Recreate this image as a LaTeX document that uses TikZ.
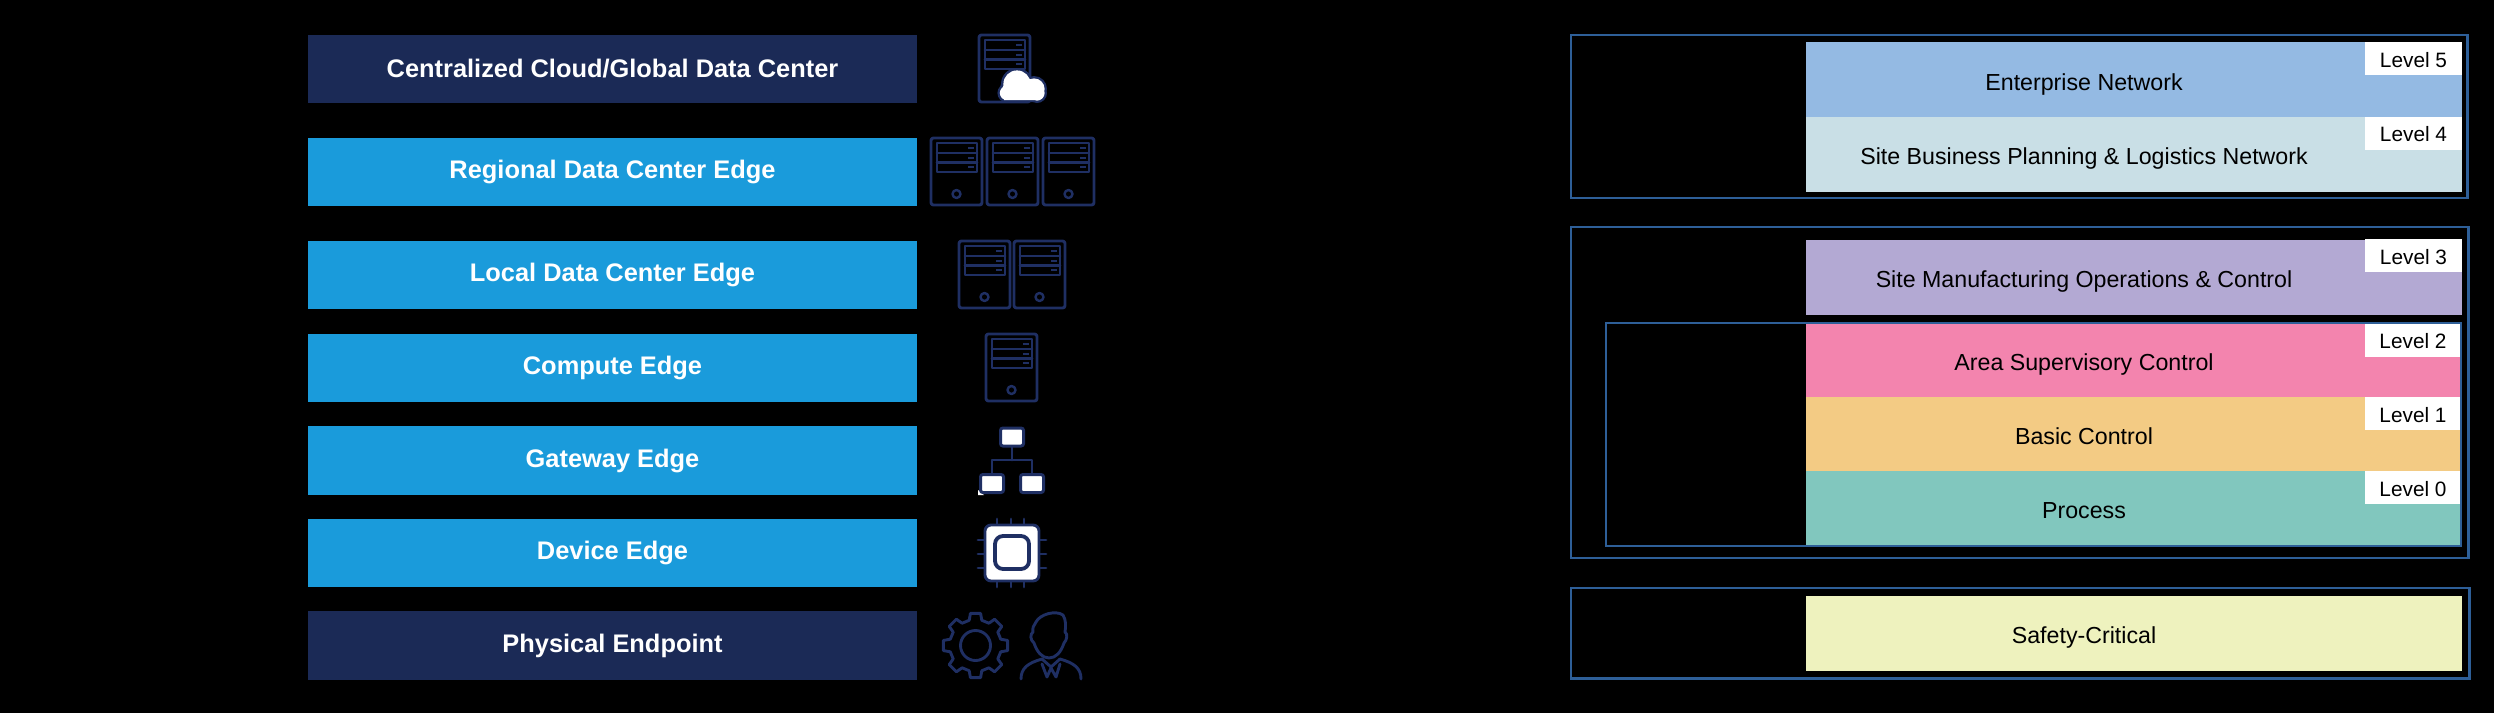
\documentclass[tikz,border=0pt]{standalone}
\usepackage{fontspec}
\setmainfont{Liberation Sans}
\definecolor{navy}{HTML}{1B2A56}
\definecolor{sky}{HTML}{1A9BDB}
\definecolor{ink}{HTML}{1F2F63}
\definecolor{frame}{HTML}{2E5F98}
\definecolor{lvfive}{HTML}{94BAE3}
\definecolor{lvfour}{HTML}{C9DFE6}
\definecolor{lvthree}{HTML}{B3A9D3}
\definecolor{lvtwo}{HTML}{F384AE}
\definecolor{lvone}{HTML}{F3CB84}
\definecolor{lvzero}{HTML}{81C7BE}
\definecolor{safety}{HTML}{EEF2BE}
\tikzset{
  bar/.style={inner sep=0pt,outer sep=0pt,minimum width=304.5pt,minimum height=34pt,text=white,font=\fontsize{12.7}{15}\selectfont\bfseries},
  navybar/.style={bar,fill=navy},
  skybar/.style={bar,fill=sky},
  row/.style={inner sep=0pt,outer sep=0pt,minimum width=328pt,minimum height=37.5pt,text=black},
  rowtext/.style={inner sep=0pt,font=\fontsize{11.6}{14}\selectfont},
  tag/.style={inner sep=0pt,outer sep=0pt,fill=white,minimum width=48.5pt,minimum height=16.5pt,text=black,font=\fontsize{10.4}{12}\selectfont},
  tagtext/.style={inner sep=0pt,font=\fontsize{10.4}{12}\selectfont},
  outerframe/.style={draw=frame,line width=1.3pt,inner sep=0pt},
  innerframe/.style={draw=frame,line width=1pt,inner sep=0pt},
  icon/.style={draw=ink,line width=1.45pt,line join=round,line cap=round},
  gwbox/.style={draw=ink,fill=white,line width=1.5pt,rounded corners=1.2pt,inner sep=0pt,minimum width=11.5pt,minimum height=9pt},
  pics/srv/.style={code={
    \draw[icon,rounded corners=1.2pt] (0,0) rectangle (51,67);
    \draw[icon] (6,5) rectangle (46,34);
    \draw[icon] (6,15) -- (46,15) (6,24.5) -- (46,24.5);
    \draw[ink,line width=1pt] (37,10) -- (43,10) (37,19.5) -- (43,19.5) (37,29) -- (43,29);
    \draw[icon,line width=1.2pt] (25.5,56) circle [radius=2pt];
  }},
}
\begin{document}
\begin{tikzpicture}[x=0.5pt,y=-0.5pt]
\fill[black] (0,0) rectangle (2494,713);
\useasboundingbox (0,0) rectangle (2494,713);
% left column bars
\node[navybar] (cloud) at (612.5,69) {Centralized Cloud/Global Data Center};
\node[skybar] (regional) at (612.5,172) {Regional Data Center Edge};
\node[skybar] (local) at (612.5,275) {Local Data Center Edge};
\node[skybar] (compute) at (612.5,368) {Compute Edge};
\node[skybar,minimum height=34.5pt] (gateway) at (612.5,460.5) {Gateway Edge};
\node[skybar] (device) at (612.5,553) {Device Edge};
\node[navybar,minimum height=34.5pt] (physical) at (612.5,645.5) {Physical Endpoint};
% server icons
\pic at (979,35) {srv};
\pic at (931,138) {srv};
\pic at (987,138) {srv};
\pic at (1043,138) {srv};
\pic at (959,241) {srv};
\pic at (1014,241) {srv};
\pic at (986,334) {srv};
% cloud
\fill[ink] (1002,86) rectangle (1040,102) (1017,84) circle [radius=8pt] (1034,89) circle [radius=6.5pt] (1007,93) circle [radius=4.8pt] (1037,93) circle [radius=5pt] (1008,88) circle [radius=4pt];
\fill[white] (1004,88) rectangle (1038,100) (1017,84) circle [radius=6.8pt] (1034,89) circle [radius=5.3pt] (1007,93) circle [radius=3.6pt] (1037,93) circle [radius=3.8pt] (1008,88) circle [radius=2.8pt];
% gateway icon
\fill[white] (978,490) -- (978,495) -- (984,495) -- cycle;
\node[gwbox] (gwtop) at (1012,437) {};
\node[gwbox] (gwleft) at (992,483.5) {};
\node[gwbox] (gwright) at (1032,483.5) {};
\coordinate (gwhub) at (1012,460);
\draw[icon] (gwtop.south) -- (gwhub);
\draw[icon] (gwleft.north) |- (gwhub);
\draw[icon] (gwright.north) |- (gwhub);
% chip icon
\draw[icon] (997,519) -- (997,525) (1011,519) -- (1011,525) (1024,519) -- (1024,525)
            (997,581) -- (997,587) (1011,581) -- (1011,587) (1024,581) -- (1024,587)
            (978,540) -- (985,540) (978,554) -- (985,554) (978,568) -- (985,568)
            (1039,540) -- (1046,540) (1039,554) -- (1046,554) (1039,568) -- (1046,568);
\draw[icon,fill=white,rounded corners=3pt] (985,525) rectangle (1039,581);
\draw[icon,line width=1.9pt,fill=white,rounded corners=4pt] (995,536) rectangle (1029,569);
% gear
\begin{scope}[shift={(975.5,645.5)}]
\draw[icon] (-14:26)
  foreach \a in {0,45,...,315} { -- ({\a-14}:26) -- ({\a-9}:32.5) -- ({\a+9}:32.5) -- ({\a+14}:26) } -- cycle;
\draw[icon] (0,0) circle [radius=7.5pt];
\end{scope}
% person
\draw[icon] (1036,622) .. controls (1040,614) and (1056,610) .. (1063,615) .. controls (1066,620) and (1066,626) .. (1065,632) .. controls (1068,634) and (1067,640) .. (1064,643) .. controls (1061,652) and (1056,658) .. (1049,658) .. controls (1042,658) and (1037,652) .. (1034,643) .. controls (1030,640) and (1030,634) .. (1033,632) .. controls (1032,628) and (1034,625) .. (1036,622) -- cycle;
\draw[icon] (1021,679) .. controls (1021,668) and (1028,663) .. (1042,659) (1081,679) .. controls (1081,668) and (1074,663) .. (1060,659);
\draw[icon] (1042,659) -- (1051,667) -- (1060,659) (1042,664) -- (1047,677) -- (1051,668) -- (1056,677) -- (1060,664);
% right column rows
\node[row,fill=lvfive] (enterprise) at (2134,79.5) {};
\node[row,fill=lvfour] (business) at (2134,154.5) {};
\node[row,fill=lvthree] (mfg) at (2134,277) {};
\node[row,fill=lvtwo,minimum width=327.5pt] (area) at (2133.5,360.5) {};
\node[row,fill=lvone,minimum width=327.5pt] (basic) at (2133.5,434) {};
\node[row,fill=lvzero,minimum width=327.5pt] (process) at (2133.5,508) {};
\node[row,fill=safety] (safe) at (2134,633.5) {};
\node[rowtext] (tenterprise) at (2084,84) {Enterprise Network};
\node[rowtext] (tbusiness) at (2084,158) {Site Business Planning \& Logistics Network};
\node[rowtext] (tmfg) at (2084,281) {Site Manufacturing Operations \& Control};
\node[rowtext] (tarea) at (2084,364.5) {Area Supervisory Control};
\node[rowtext] (tbasic) at (2084,436.5) {Basic Control};
\node[rowtext] (tprocess) at (2084,511) {Process};
\node[rowtext] (tsafe) at (2084,637) {Safety-Critical};
% level tags
\node[tag] (l5) at (2413.5,58.5) {};
\node[tag] (l4) at (2413.5,133) {};
\node[tag] (l3) at (2413.5,255.5) {};
\node[tag] (l2) at (2413,340) {};
\node[tag] (l1) at (2413,413.5) {};
\node[tag] (l0) at (2413,487.5) {};
\node[tagtext] (t5) at (2413.5,60) {Level 5};
\node[tagtext] (t4) at (2413.5,134.5) {Level 4};
\node[tagtext] (t3) at (2413.5,257) {Level 3};
\node[tagtext] (t2) at (2413,341.5) {Level 2};
\node[tagtext] (t1) at (2413,415) {Level 1};
\node[tagtext] (t0) at (2413,489) {Level 0};
% frames
\draw[outerframe] (1571,35) rectangle (2467.3,198);
\draw[outerframe] (1571,227) rectangle (2468.3,558);
\draw[innerframe] (1606,323) rectangle (2461,545.5);
\draw[outerframe] (1571,588) rectangle (2469.3,678.5);
\end{tikzpicture}
\end{document}
